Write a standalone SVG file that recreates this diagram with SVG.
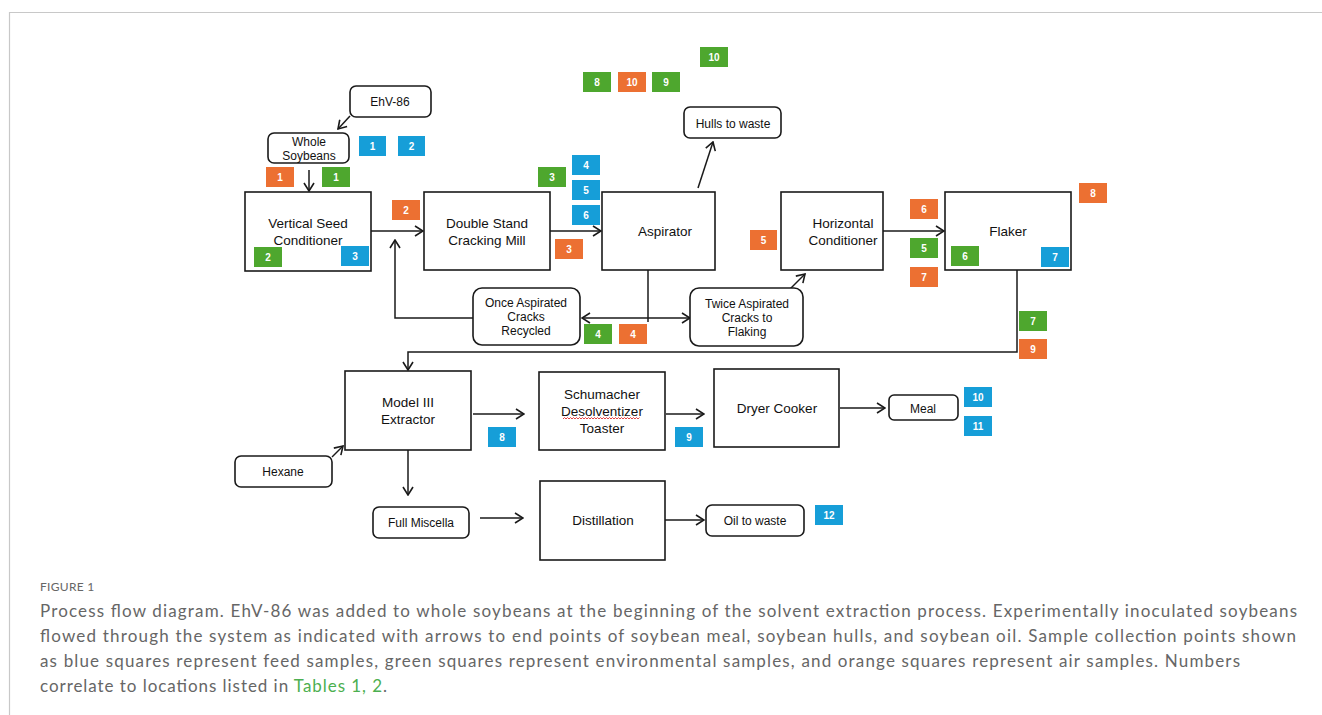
<svg xmlns="http://www.w3.org/2000/svg" width="1322" height="715" viewBox="0 0 1322 715">
<style>
.box{fill:#fff;stroke:#1a1a1a;stroke-width:1.6}
.t{font-family:"Liberation Sans",Arial,sans-serif;font-size:13.5px;fill:#111;text-anchor:middle}
.s{font-family:"Liberation Sans",Arial,sans-serif;font-size:12px;fill:#111;text-anchor:middle}
.c{fill:none;stroke:#1a1a1a;stroke-width:1.5}
.o{fill:#ec7032}
.g{fill:#4ea72e}
.b{fill:#169ed8}
.bt{font-family:"Liberation Sans",Arial,sans-serif;font-size:10px;font-weight:bold;fill:#fff;text-anchor:middle}
.cap{font-family:Lato,"Open Sans",sans-serif;font-size:17px;fill:#666}
</style>
<defs>
<marker id="ar" viewBox="0 0 10 12" refX="9" refY="6" markerWidth="10" markerHeight="12" markerUnits="userSpaceOnUse" orient="auto-start-reverse">
<path d="M1,1 L9,6 L1,11" fill="none" stroke="#1a1a1a" stroke-width="1.6"/>
</marker>
</defs>
<rect width="1322" height="715" fill="#fff"/>
<path d="M9.5,715 V12.5 H1322" fill="none" stroke="#c8c8c8" stroke-width="1.2"/>

<g id="connectors">
<line class="c" x1="350" y1="116" x2="338" y2="129" marker-end="url(#ar)"/>
<line class="c" x1="309" y1="170" x2="309" y2="191" marker-end="url(#ar)"/>
<line class="c" x1="371" y1="231" x2="423" y2="231" marker-end="url(#ar)"/>
<line class="c" x1="550" y1="231" x2="601" y2="231" marker-end="url(#ar)"/>
<line class="c" x1="698" y1="188" x2="713" y2="142" marker-end="url(#ar)"/>
<line class="c" x1="648" y1="270" x2="648" y2="322"/>
<line class="c" x1="582" y1="318" x2="690" y2="318" marker-start="url(#ar)" marker-end="url(#ar)"/>
<polyline class="c" points="473,318 395,318 395,240" marker-end="url(#ar)"/>
<line class="c" x1="790" y1="289" x2="805" y2="274" marker-end="url(#ar)"/>
<line class="c" x1="883" y1="231" x2="944" y2="231" marker-end="url(#ar)"/>
<polyline class="c" points="1017,270 1017,352 408,352 408,370" marker-end="url(#ar)"/>
<line class="c" x1="473" y1="414" x2="524" y2="414" marker-end="url(#ar)"/>
<line class="c" x1="666" y1="414" x2="704" y2="414" marker-end="url(#ar)"/>
<line class="c" x1="840" y1="408" x2="885" y2="408" marker-end="url(#ar)"/>
<line class="c" x1="332" y1="457" x2="343" y2="446" marker-end="url(#ar)"/>
<line class="c" x1="408" y1="450" x2="408" y2="495" marker-end="url(#ar)"/>
<line class="c" x1="480" y1="518" x2="523" y2="518" marker-end="url(#ar)"/>
<line class="c" x1="665" y1="520" x2="704" y2="520" marker-end="url(#ar)"/>
</g>

<g id="ehv86"><rect class="box" x="350" y="86" width="81" height="31" rx="6"/><text class="s" x="390" y="106">EhV-86</text></g>
<g id="whole-soybeans"><rect class="box" x="268" y="133" width="81" height="30" rx="6"/><text class="s" x="309" y="146">Whole</text><text class="s" x="309" y="160">Soybeans</text></g>
<g id="vsc"><rect class="box" x="245" y="192" width="126" height="79"/><text class="t" x="308" y="228">Vertical Seed</text><text class="t" x="308" y="245">Conditioner</text></g>
<g id="dscm"><rect class="box" x="424" y="192" width="126" height="78"/><text class="t" x="487" y="228">Double Stand</text><text class="t" x="487" y="245">Cracking Mill</text></g>
<g id="aspirator"><rect class="box" x="602" y="192" width="113" height="78"/><text class="t" x="665" y="236">Aspirator</text></g>
<g id="hulls"><rect class="box" x="684" y="107" width="97" height="31" rx="6"/><text class="s" x="733" y="128">Hulls to waste</text></g>
<g id="hc"><rect class="box" x="781" y="192" width="102" height="78"/><text class="t" x="843" y="228">Horizontal</text><text class="t" x="843" y="245">Conditioner</text></g>
<g id="flaker"><rect class="box" x="945" y="192" width="126" height="78"/><text class="t" x="1008" y="236">Flaker</text></g>
<g id="once"><rect class="box" x="473" y="288" width="107" height="57" rx="9"/><text class="s" x="526" y="307">Once Aspirated</text><text class="s" x="526" y="321">Cracks</text><text class="s" x="526" y="335">Recycled</text></g>
<g id="twice"><rect class="box" x="690" y="288" width="113" height="58" rx="9"/><text class="s" x="747" y="308">Twice Aspirated</text><text class="s" x="747" y="322">Cracks to</text><text class="s" x="747" y="336">Flaking</text></g>
<g id="extractor"><rect class="box" x="345" y="371" width="126" height="79"/><text class="t" x="408" y="407">Model III</text><text class="t" x="408" y="424">Extractor</text></g>
<g id="schumacher"><rect class="box" x="539" y="372" width="126" height="78"/><text class="t" x="602" y="399">Schumacher</text><text class="t" x="602" y="416">Desolventizer</text><path d="M563,419 l1.5,-1.5 l1.5,1.5 l1.5,-1.5 l1.5,1.5 l1.5,-1.5 l1.5,1.5 l1.5,-1.5 l1.5,1.5 l1.5,-1.5 l1.5,1.5 l1.5,-1.5 l1.5,1.5 l1.5,-1.5 l1.5,1.5 l1.5,-1.5 l1.5,1.5 l1.5,-1.5 l1.5,1.5 l1.5,-1.5 l1.5,1.5 l1.5,-1.5 l1.5,1.5 l1.5,-1.5 l1.5,1.5 l1.5,-1.5 l1.5,1.5 l1.5,-1.5 l1.5,1.5 l1.5,-1.5 l1.5,1.5 l1.5,-1.5 l1.5,1.5 l1.5,-1.5 l1.5,1.5 l1.5,-1.5 l1.5,1.5 l1.5,-1.5 l1.5,1.5 l1.5,-1.5 l1.5,1.5 l1.5,-1.5 l1.5,1.5 l1.5,-1.5 l1.5,1.5 l1.5,-1.5 l1.5,1.5 l1.5,-1.5 l1.5,1.5 l1.5,-1.5 l1.5,1.5 l1.5,-1.5" fill="none" stroke="#e03030" stroke-width="0.9"/><text class="t" x="602" y="433">Toaster</text></g>
<g id="dryer"><rect class="box" x="714" y="369" width="125" height="78"/><text class="t" x="777" y="413">Dryer Cooker</text></g>
<g id="meal"><rect class="box" x="889" y="395" width="69" height="25" rx="5"/><text class="s" x="923" y="413">Meal</text></g>
<g id="hexane"><rect class="box" x="235" y="456" width="97" height="31" rx="6"/><text class="s" x="283" y="476">Hexane</text></g>
<g id="miscella"><rect class="box" x="373" y="507" width="96" height="31" rx="6"/><text class="s" x="421" y="527">Full Miscella</text></g>
<g id="distillation"><rect class="box" x="540" y="481" width="125" height="79"/><text class="t" x="603" y="525">Distillation</text></g>
<g id="oil"><rect class="box" x="706" y="505" width="98" height="31" rx="6"/><text class="s" x="755" y="525">Oil to waste</text></g>

<g id="badges">
<rect class="g" x="700" y="47" width="28" height="20"/><text class="bt" x="714" y="61">10</text>
<rect class="g" x="583" y="72" width="28" height="20"/><text class="bt" x="597" y="86">8</text>
<rect class="o" x="618" y="72" width="28" height="20"/><text class="bt" x="632" y="86">10</text>
<rect class="g" x="652" y="72" width="28" height="20"/><text class="bt" x="666" y="86">9</text>
<rect class="b" x="359" y="136" width="27" height="20"/><text class="bt" x="372.5" y="150">1</text>
<rect class="b" x="398" y="136" width="27" height="20"/><text class="bt" x="411.5" y="150">2</text>
<rect class="o" x="266" y="167" width="28" height="20"/><text class="bt" x="280" y="181">1</text>
<rect class="g" x="322" y="167" width="28" height="20"/><text class="bt" x="336" y="181">1</text>
<rect class="o" x="392" y="200" width="28" height="20"/><text class="bt" x="406" y="214">2</text>
<rect class="g" x="254" y="247" width="28" height="20"/><text class="bt" x="268" y="261">2</text>
<rect class="b" x="341" y="246" width="28" height="20"/><text class="bt" x="355" y="260">3</text>
<rect class="g" x="538" y="167" width="28" height="20"/><text class="bt" x="552" y="181">3</text>
<rect class="b" x="572" y="155" width="28" height="20"/><text class="bt" x="586" y="169">4</text>
<rect class="b" x="572" y="180" width="28" height="20"/><text class="bt" x="586" y="194">5</text>
<rect class="b" x="572" y="205" width="28" height="20"/><text class="bt" x="586" y="219">6</text>
<rect class="o" x="555" y="239" width="28" height="20"/><text class="bt" x="569" y="253">3</text>
<rect class="o" x="750" y="230" width="27" height="20"/><text class="bt" x="763.5" y="244">5</text>
<rect class="o" x="910" y="199" width="28" height="20"/><text class="bt" x="924" y="213">6</text>
<rect class="g" x="910" y="238" width="28" height="20"/><text class="bt" x="924" y="252">5</text>
<rect class="o" x="910" y="267" width="28" height="20"/><text class="bt" x="924" y="281">7</text>
<rect class="g" x="951" y="246" width="28" height="20"/><text class="bt" x="965" y="260">6</text>
<rect class="b" x="1041" y="247" width="28" height="20"/><text class="bt" x="1055" y="261">7</text>
<rect class="o" x="1079" y="183" width="28" height="20"/><text class="bt" x="1093" y="197">8</text>
<rect class="g" x="584" y="324" width="28" height="20"/><text class="bt" x="598" y="338">4</text>
<rect class="o" x="619" y="324" width="28" height="20"/><text class="bt" x="633" y="338">4</text>
<rect class="g" x="1019" y="311" width="28" height="20"/><text class="bt" x="1033" y="325">7</text>
<rect class="o" x="1019" y="339" width="28" height="20"/><text class="bt" x="1033" y="353">9</text>
<rect class="b" x="488" y="427" width="28" height="20"/><text class="bt" x="502" y="441">8</text>
<rect class="b" x="675" y="427" width="28" height="20"/><text class="bt" x="689" y="441">9</text>
<rect class="b" x="964" y="387" width="28" height="20"/><text class="bt" x="978" y="401">10</text>
<rect class="b" x="964" y="416" width="28" height="20"/><text class="bt" x="978" y="430">11</text>
<rect class="b" x="815" y="505" width="28" height="20"/><text class="bt" x="829" y="519">12</text>
</g>

<g id="caption">
<text x="40" y="591" font-family="Lato,'Open Sans',sans-serif" font-size="12px" fill="#666" letter-spacing="0.3">FIGURE 1</text>
<text class="cap" x="40" y="617" textLength="1257" lengthAdjust="spacing">Process flow diagram. EhV-86 was added to whole soybeans at the beginning of the solvent extraction process. Experimentally inoculated soybeans</text>
<text class="cap" x="40" y="642" textLength="1256" lengthAdjust="spacing">flowed through the system as indicated with arrows to end points of soybean meal, soybean hulls, and soybean oil. Sample collection points shown</text>
<text class="cap" x="40" y="667" textLength="1200" lengthAdjust="spacing">as blue squares represent feed samples, green squares represent environmental samples, and orange squares represent air samples. Numbers</text>
<text class="cap" x="40" y="692" textLength="347" lengthAdjust="spacing">correlate to locations listed in <tspan fill="#4caf50">Tables 1, 2</tspan>.</text>
</g>
</svg>
